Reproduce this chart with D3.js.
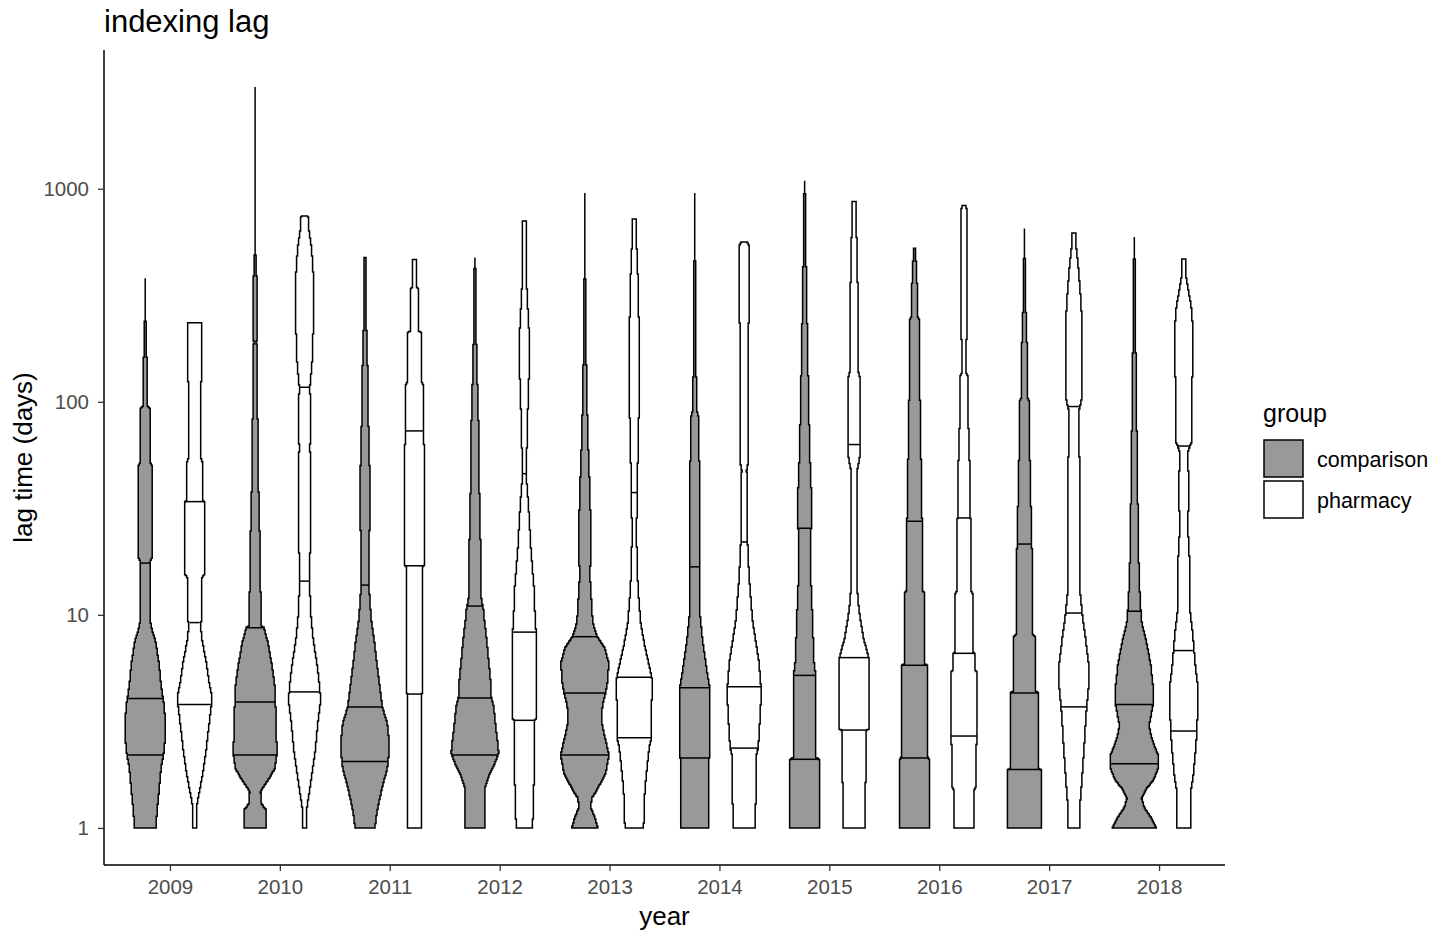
<!DOCTYPE html>
<html>
<head>
<meta charset="utf-8">
<script src="https://cdn.jsdelivr.net/npm/d3@7"></script>
<style>
    body { margin: 0; background: #fff; }
    text { font-family: "Liberation Sans", Arial, sans-serif; }
</style>
</head>
<body>
<div id="chart"></div>
<script>
// ---- data ----
const years = ["2009", "2010", "2011", "2012", "2013", "2014", "2015", "2016", "2017", "2018"];
const groups = ["comparison", "pharmacy"];
const yTicks = [1, 10, 100, 1000];

// violin profiles, one per year: [lag (days), density] from the minimum to the maximum lag
const comparisonProfiles = [
    [[1,10.8],[1.2,12],[1.5,14],[1.9,16],[2.35,19.5],[3.1,20.5],[3.8,19],[4.7,16],[5.9,14],[7.5,10.5],[8.8,6],[9.8,4.8],[17.5,4.6],[18.5,6.7],[50,6.7],[52,5.2],[92,5.2],[96,2],[155,2],[165,1.2],[210,1],[240,0.5],[380,0.5]],
    [[1,11.3],[1.22,11.3],[1.3,6],[1.48,5.5],[1.7,14],[1.9,20],[2.3,22.5],[2.8,21],[3.8,20.7],[4.6,20],[5.8,17],[7.4,13],[8.7,9],[8.9,5.8],[12.5,5.8],[13.5,4.8],[28,4.5],[38,3.5],[52,3],[85,2.5],[125,1.8],[190,1.5],[260,1.8],[400,1.5],[470,1],[490,0.4],[3000,0.4]],
    [[1,10],[1.2,12.3],[1.5,16.7],[1.9,22.5],[2.3,24.5],[2.5,24.5],[3.1,22.5],[3.7,17.5],[4.7,14.7],[5.9,12],[7.5,9.5],[9.5,6.2],[12.5,4.5],[13.8,4.2],[19,4],[28,4.8],[47,4.8],[60,3.8],[95,3.3],[150,2.5],[235,1.3],[380,0.8],[475,0.5]],
    [[1,10],[1.55,10.5],[1.8,15],[2.05,21],[2.25,24],[2.5,23],[3,21],[3.7,19],[4.07,16.7],[4.8,16],[6,14],[7.6,12],[9.5,9.5],[11,8.3],[11.3,6.7],[15,6],[24,5.5],[38,4.5],[60,4],[95,3.3],[150,1.8],[235,1.2],[380,0.6],[475,0.4]],
    [[1,13.3],[1.12,10],[1.25,6],[1.38,7],[1.5,12],[1.8,21],[2.2,24.5],[2.7,20],[3.2,16.7],[3.8,18],[4.3,21],[5,23.5],[6,24],[7,20],[7.9,12.5],[8.8,9],[10,7.5],[15,5.3],[23,6.2],[37,5.2],[60,3.5],[95,2.3],[150,1.5],[235,0.8],[380,0.5],[955,0.3]],
    [[1,14],[2.1,14.3],[2.15,15],[4.6,15],[5.4,12.5],[6.1,10.8],[7.9,7.5],[9.8,5.5],[52,5.3],[54,3.8],[85,3.8],[90,2.5],[105,2.5],[140,1.2],[235,0.6],[955,0.4]],
    [[1,14.7],[2.1,14.7],[2.15,11.3],[5.2,11.3],[6,9.5],[7.5,8.7],[9.5,8],[15,6.2],[24,6.2],[26,6.7],[38,6.7],[60,5],[95,4.2],[150,3.3],[235,2.5],[380,1.7],[600,1],[950,0.5],[1090,0.3]],
    [[1,14.7],[2.1,14.7],[2.15,13.3],[5.8,13.3],[5.9,10],[12.6,10],[13,8.3],[27.5,8.3],[28.5,7.5],[52,7.5],[54,6.2],[100,6.2],[104,4.7],[244,4.7],[250,3],[356,3],[365,1.7],[525,1.4]],
    [[1,16.7],[1.88,16.7],[1.9,14.2],[4.3,14.2],[4.4,11.3],[7.9,11.3],[8.1,8.3],[20.2,8.3],[21,6.7],[32,6.7],[33,6.2],[52,6.2],[54,5],[100,5],[104,3.3],[184,3.3],[190,2.3],[256,2.3],[265,1.3],[450,1.3],[470,0.5],[650,0.4]],
    [[1,22],[1.12,17],[1.25,10],[1.38,7.5],[1.52,12],[1.7,20],[1.95,24.7],[2.2,24],[2.6,18],[3,15],[3.4,17],[3.8,19],[4.6,19],[5.8,16.7],[7.4,12.5],[9.4,7.2],[15,4.7],[23,4.3],[37,3.3],[60,2.7],[95,2.3],[150,1.7],[235,1],[380,0.6],[594,0.4]]
];

const pharmacyProfiles = [
    [[1,2.5],[1.3,2.5],[1.5,5],[1.9,9],[2.35,11.7],[3,14.3],[3.7,16.7],[4.3,16.7],[4.7,15],[6,11.7],[7.5,7.7],[9.2,5.5],[9.3,7.5],[15,7.5],[15.5,10],[34,10],[34.5,7.7],[52,7.7],[55,5.8],[118,5.8],[125,6.7],[235,6.7]],
    [[1,2.3],[1.25,2.5],[1.5,5],[1.9,8.3],[2.35,11],[3.1,13.3],[3.8,15.7],[4.3,15.7],[4.7,15],[6,12.3],[7.5,9],[9.5,6.7],[12.5,5.5],[15,5],[24,6],[38,6.5],[60,5.5],[95,6],[117,5.3],[150,7.5],[235,9],[380,9],[530,7],[620,4.7],[745,3.5]],
    [[1,6.7],[4.25,6.7],[4.3,8.3],[16.8,8.3],[17.2,10],[62,10],[64,9],[120,9],[123,7.5],[210,7.5],[215,4.3],[335,4.3],[345,2.3],[465,2.3]],
    [[1,8.3],[1.5,9.5],[2,10],[3.2,10],[3.25,12.3],[8.2,12.3],[9,11],[13,10],[20,6.7],[32,4.3],[46,1.7],[60,2.5],[85,3.3],[135,4.7],[215,4.7],[340,2.5],[580,1.7],[705,1.7]],
    [[1,9.5],[1.3,10],[1.6,11.3],[2,13.3],[2.4,15.3],[2.65,17.5],[5,17.8],[5.8,15],[7.2,10.5],[9,6.7],[12,4.5],[15,3.3],[23,2.3],[37,2.8],[58,3.8],[90,4.7],[145,5],[230,4.7],[370,3.8],[600,2],[720,2]],
    [[1,11.3],[2.2,12.3],[2.4,14.3],[3.1,15.7],[3.8,16.7],[4.7,16.7],[6,15],[7.5,11.7],[9.5,8.3],[15,5],[23,3.2],[48,2.5],[52,4.2],[230,4.2],[240,5],[540,5],[562,3]],
    [[1,11.3],[2.85,12],[2.9,14.7],[6.3,14.7],[7.8,9.5],[9.3,6.7],[10.5,5],[13,3.3],[48,3.3],[55,5.7],[130,5.7],[140,4.2],[340,4.2],[370,3.3],[570,3.3],[600,2],[870,2]],
    [[1,10],[1.5,10],[1.55,11.7],[2.45,11.7],[2.5,13.3],[5.4,13.3],[5.5,11.3],[6.6,11.3],[6.7,8.7],[12.6,8.7],[13,6.7],[20,6.7],[20.5,7.5],[28,7.5],[28.5,6.2],[52,6.2],[54,4.7],[75,4.7],[77,3.8],[133,3.8],[137,2.2],[194,2.2],[200,2.8],[790,2.8],[835,2.2]],
    [[1,5.7],[1.2,5.7],[1.65,8],[2.45,10.5],[3.5,12.5],[4.5,14.7],[6,14.7],[7.8,11.7],[10.2,8.3],[13,6.2],[50,6.2],[60,5],[90,5],[105,8.3],[220,8.3],[290,7.3],[430,4.5],[550,2],[620,2]],
    [[1,6.7],[1.45,6.7],[1.75,9.5],[2.5,12.5],[3.6,14.2],[4.6,14.2],[6,11.3],[8,9.2],[11,5.8],[18,5.8],[25,4.2],[40,5],[58,4],[65,8],[120,8],[150,9.5],[210,9.5],[280,7.5],[380,2.5],[468,2]]
];

// 25%, 50%, 75% quantiles (days)
const comparisonQuartiles = [
    [2.2, 4.05, 17.5], [2.2, 3.9, 8.7], [2.05, 3.7, 13.8], [2.2, 4.07, 11], [2.2, 4.3, 7.9],
    [2.13, 4.55, 16.8], [2.1, 5.2, 25.5], [2.13, 5.8, 27.5], [1.88, 4.3, 21.5], [2.0, 3.8, 10.4]
];
const pharmacyQuartiles = [
    [3.8, 9.2, 34], [4.35, 14.4, 117], [4.25, 17, 73], [3.2, 8.3, 46], [2.65, 5.1, 37.5],
    [2.37, 4.6, 22], [2.88, 6.3, 63], [2.7, 6.6, 28.5], [3.7, 10.2, 95], [2.85, 6.8, 62]
];

// ---- chart ----
let width = 1451, height = 932;
let margin = {top: 50, right: 226, bottom: 67, left: 104};
let plotW = width - margin.left - margin.right;
let plotH = height - margin.top - margin.bottom;

let svg = d3.select("#chart").append("svg")
    .attr("width", width)
    .attr("height", height);

let fills = {comparison: "#999999", pharmacy: "#ffffff"};

// scales
let x = d3.scalePoint()
    .domain(years)
    .range([margin.left, margin.left + plotW])
    .padding(0.6);

let dodge = d3.scalePoint()
    .domain(groups)
    .range([-0.225 * x.step(), 0.225 * x.step()]);

let allLags = comparisonProfiles.concat(pharmacyProfiles).flat().map(d => d[0]);
let lo = Math.log10(d3.min(allLags)), hi = Math.log10(d3.max(allLags));
let pad = (hi - lo) * 0.05;
let y = d3.scaleLog()
    .domain([Math.pow(10, lo - pad), Math.pow(10, hi + pad)])
    .range([margin.top + plotH, margin.top]);

let w = d3.scaleLinear().domain([0, 25]).range([0, 0.225 * x.step()]);

// build one violin: stepped outline sampled per pixel row
function drawViolin(profile, quartiles, cx, fill) {
    let dens = d3.scaleLinear()
        .domain(profile.map(d => Math.log10(d[0])))
        .range(profile.map(d => d[1]))
        .clamp(true);
    let halfW = lag => Math.round(w(dens(Math.log10(lag))));

    let yTop = y(profile[profile.length - 1][0]);
    let yBot = y(profile[0][0]);
    let segs = [];
    for (let py = yTop; py < yBot; py += 1) {
        let end = Math.min(py + 1, yBot);
        let hw = halfW(y.invert((py + end) / 2));
        if (segs.length && segs[segs.length - 1].hw === hw) segs[segs.length - 1].y1 = end;
        else segs.push({y0: py, y1: end, hw: hw});
    }
    let right = segs.flatMap(s => [[cx + s.hw, s.y0], [cx + s.hw, s.y1]]);
    let left = segs.slice().reverse().flatMap(s => [[cx - s.hw, s.y1], [cx - s.hw, s.y0]]);

    let g = svg.append("g");
    g.append("path")
        .attr("d", d3.line()(right.concat(left)) + "Z")
        .attr("fill", fill)
        .attr("stroke", "#000")
        .attr("stroke-width", 1.5)
        .attr("stroke-linejoin", "miter");

    g.selectAll("line")
        .data(quartiles)
        .enter()
        .append("line")
        .attr("x1", q => cx - halfW(q))
        .attr("x2", q => cx + halfW(q))
        .attr("y1", q => y(q))
        .attr("y2", q => y(q))
        .attr("stroke", "#000")
        .attr("stroke-width", 1.5);
}

years.forEach((yr, i) => {
    drawViolin(comparisonProfiles[i], comparisonQuartiles[i], x(yr) + dodge("comparison"), fills.comparison);
    drawViolin(pharmacyProfiles[i], pharmacyQuartiles[i], x(yr) + dodge("pharmacy"), fills.pharmacy);
});

// axes
let xAxis = d3.axisBottom(x).tickSize(6).tickPadding(8);
let yAxis = d3.axisLeft(y).tickValues(yTicks).tickFormat(d3.format("d")).tickSize(6).tickPadding(9);

let xg = svg.append("g")
    .attr("transform", "translate(0," + (margin.top + plotH) + ")")
    .call(xAxis);
let yg = svg.append("g")
    .attr("transform", "translate(" + margin.left + ",0)")
    .call(yAxis);

[xg, yg].forEach(g => {
    g.select(".domain").attr("stroke", "#000").attr("stroke-width", 1.5);
    g.selectAll(".tick line").attr("stroke", "#333").attr("stroke-width", 1.3);
    g.selectAll(".tick text")
        .attr("fill", "#4d4d4d")
        .style("font-size", "20.5px")
        .style("font-family", "'Liberation Sans', Arial, sans-serif");
});
// domain lines without the end caps of d3 axes
xg.select(".domain").attr("d", "M" + margin.left + ",0H" + (margin.left + plotW));
yg.select(".domain").attr("d", "M0," + margin.top + "V" + (margin.top + plotH));

// titles
svg.append("text")
    .attr("x", margin.left)
    .attr("y", 32)
    .style("font-size", "31px")
    .text("indexing lag");

svg.append("text")
    .attr("x", margin.left + plotW / 2)
    .attr("y", 925)
    .attr("text-anchor", "middle")
    .style("font-size", "26px")
    .text("year");

svg.append("text")
    .attr("transform", "translate(32," + (margin.top + plotH / 2) + ") rotate(-90)")
    .attr("text-anchor", "middle")
    .style("font-size", "26px")
    .text("lag time (days)");

// legend
let legend = svg.append("g").attr("transform", "translate(1263,0)");
legend.append("text")
    .attr("x", 0)
    .attr("y", 422)
    .style("font-size", "25px")
    .text("group");

let keys = legend.selectAll(".key")
    .data(groups)
    .enter()
    .append("g")
    .attr("class", "key")
    .attr("transform", (d, i) => "translate(1," + (440 + i * 41) + ")");

keys.append("rect")
    .attr("width", 39)
    .attr("height", 37)
    .attr("fill", d => fills[d])
    .attr("stroke", "#000")
    .attr("stroke-width", 1.5);

keys.append("text")
    .attr("x", 53)
    .attr("y", 19)
    .attr("dy", "0.35em")
    .style("font-size", "21.5px")
    .text(d => d);
</script>
</body>
</html>
